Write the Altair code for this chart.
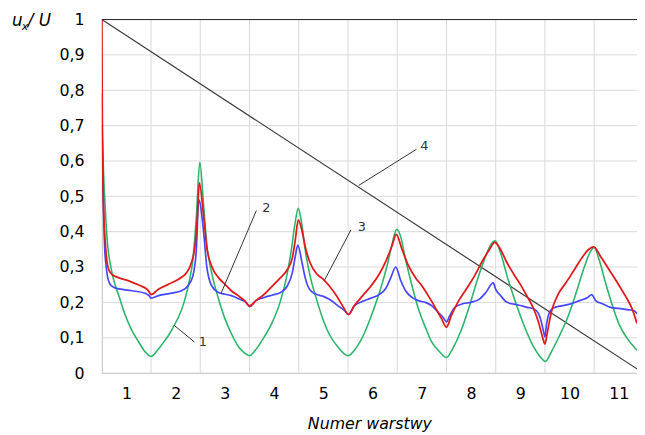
import altair as alt
import pandas as pd

# ---- data ----
x_green = [0.5, 0.52, 0.55, 0.58, 0.62, 0.67, 0.72, 0.85, 0.98, 1.11, 1.25, 1.38, 1.5, 1.65, 1.78, 1.88, 1.97, 2.07, 2.17, 2.27, 2.35, 2.42, 2.49,
           2.57, 2.63, 2.73, 2.87, 3.0, 3.13, 3.28, 3.41, 3.5, 3.62, 3.78, 3.95, 4.12, 4.25, 4.35, 4.42, 4.49,
           4.57, 4.63, 4.73, 4.87, 5.0, 5.13, 5.3, 5.5, 5.67, 5.83, 6.0, 6.17, 6.3, 6.4, 6.49,
           6.57, 6.67, 6.8, 6.93, 7.07, 7.2, 7.37, 7.5, 7.63, 7.8, 7.97, 8.13, 8.27, 8.4, 8.49,
           8.6, 8.73, 8.87, 9.0, 9.13, 9.27, 9.4, 9.51, 9.63, 9.8, 9.97, 10.13, 10.3, 10.43, 10.5,
           10.6, 10.73, 10.87, 11.0, 11.17, 11.37]
y_green = [0.70, 0.62, 0.52, 0.44, 0.36, 0.31, 0.275, 0.217, 0.162, 0.121, 0.088, 0.06, 0.047, 0.068, 0.092, 0.112, 0.135, 0.162, 0.2, 0.255, 0.321, 0.442, 0.596,
           0.47, 0.368, 0.284, 0.21, 0.154, 0.112, 0.074, 0.056, 0.049, 0.065, 0.098, 0.14, 0.2, 0.27, 0.349, 0.419, 0.466,
           0.414, 0.349, 0.275, 0.205, 0.149, 0.107, 0.073, 0.049, 0.072, 0.112, 0.172, 0.242, 0.307, 0.368, 0.407,
           0.386, 0.321, 0.247, 0.182, 0.13, 0.088, 0.059, 0.044, 0.07, 0.121, 0.191, 0.265, 0.321, 0.363, 0.374,
           0.34, 0.275, 0.214, 0.163, 0.116, 0.074, 0.047, 0.033, 0.06, 0.107, 0.16, 0.225, 0.3, 0.345, 0.355,
           0.321, 0.256, 0.191, 0.14, 0.098, 0.065]

x_blue = [0.5, 0.51, 0.525, 0.54, 0.56, 0.59, 0.62, 0.67, 0.75, 0.85, 1.11, 1.38, 1.46, 1.5, 1.65, 1.92, 2.12, 2.25, 2.35, 2.42, 2.47,
          2.57, 2.63, 2.73, 2.87, 3.0, 3.13, 3.3, 3.43, 3.51, 3.63, 3.8, 3.97, 4.13, 4.27, 4.37, 4.43, 4.48,
          4.57, 4.63, 4.73, 4.87, 5.0, 5.13, 5.3, 5.43, 5.51, 5.63, 5.8, 5.97, 6.13, 6.27, 6.37, 6.47,
          6.57, 6.67, 6.8, 6.93, 7.07, 7.2, 7.33, 7.43, 7.5, 7.57, 7.67, 7.83, 8.0, 8.17, 8.3, 8.45,
          8.5, 8.6, 8.73, 8.87, 9.0, 9.13, 9.27, 9.37, 9.43, 9.48, 9.5, 9.53, 9.58, 9.67, 9.83, 10.03, 10.2, 10.37, 10.45,
          10.53, 10.67, 10.83, 11.0, 11.2, 11.3, 11.37]
y_blue = [0.79, 0.66, 0.53, 0.43, 0.35, 0.30, 0.27, 0.251, 0.242, 0.238, 0.233, 0.226, 0.219, 0.212, 0.219, 0.226, 0.233, 0.247, 0.275, 0.349, 0.49,
          0.396, 0.303, 0.247, 0.228, 0.223, 0.219, 0.209, 0.2, 0.188, 0.205, 0.214, 0.221, 0.228, 0.247, 0.284, 0.33, 0.362,
          0.31, 0.27, 0.235, 0.222, 0.217, 0.208, 0.19, 0.177, 0.166, 0.19, 0.203, 0.212, 0.222, 0.24, 0.27, 0.30,
          0.262, 0.233, 0.214, 0.205, 0.2, 0.191, 0.172, 0.158, 0.145, 0.163, 0.186, 0.196, 0.2, 0.209, 0.228, 0.255,
          0.237, 0.219, 0.2, 0.195, 0.191, 0.186, 0.182, 0.168, 0.144, 0.112, 0.102, 0.135, 0.168, 0.184, 0.19, 0.196, 0.205, 0.214, 0.222,
          0.205, 0.196, 0.186, 0.183, 0.179, 0.177, 0.168]

x_red = [0.5, 0.51, 0.525, 0.54, 0.57, 0.6, 0.64, 0.7, 0.8, 1.05, 1.25, 1.42, 1.46, 1.5, 1.65, 1.85, 2.05, 2.22, 2.32, 2.4, 2.44, 2.48,
         2.57, 2.63, 2.73, 2.87, 3.0, 3.13, 3.27, 3.4, 3.5, 3.63, 3.8, 3.97, 4.13, 4.27, 4.37, 4.43, 4.49,
         4.57, 4.63, 4.73, 4.87, 5.0, 5.13, 5.27, 5.4, 5.51, 5.63, 5.8, 5.97, 6.13, 6.27, 6.39, 6.48,
         6.6, 6.73, 6.87, 7.0, 7.13, 7.27, 7.4, 7.5, 7.6, 7.73, 7.9, 8.07, 8.23, 8.37, 8.48,
         8.6, 8.73, 8.87, 9.0, 9.13, 9.27, 9.37, 9.45, 9.5, 9.55, 9.63, 9.77, 9.93, 10.1, 10.27, 10.4, 10.49,
         10.63, 10.8, 10.97, 11.13, 11.27, 11.37]
y_red = [1.0, 0.72, 0.52, 0.45, 0.37, 0.32, 0.293, 0.28, 0.272, 0.261, 0.249, 0.237, 0.23, 0.222, 0.237, 0.251, 0.265, 0.284, 0.312, 0.368, 0.442, 0.538,
         0.442, 0.358, 0.303, 0.27, 0.251, 0.233, 0.219, 0.205, 0.19, 0.205, 0.223, 0.247, 0.27, 0.293, 0.326, 0.377, 0.433,
         0.4, 0.358, 0.312, 0.28, 0.265, 0.245, 0.218, 0.188, 0.166, 0.191, 0.219, 0.247, 0.279, 0.317, 0.358, 0.392,
         0.349, 0.303, 0.27, 0.247, 0.219, 0.186, 0.154, 0.13, 0.163, 0.2, 0.237, 0.275, 0.317, 0.349, 0.37,
         0.349, 0.312, 0.279, 0.251, 0.219, 0.182, 0.144, 0.102, 0.082, 0.116, 0.172, 0.223, 0.256, 0.293, 0.33, 0.351, 0.357,
         0.33, 0.293, 0.256, 0.219, 0.182, 0.14]

x_line4 = [0.5, 11.5]
y_line4 = [1.0, 0.0]

layer_numbers = [1, 2, 3, 4, 5, 6, 7, 8, 9, 10, 11]
layer_bounds = [1.5, 2.5, 3.5, 4.5, 5.5, 6.5, 7.5, 8.5, 9.5, 10.5]
y_ticks = [0, 0.1, 0.2, 0.3, 0.4, 0.5, 0.6, 0.7, 0.8, 0.9, 1.0]

label_text = ["1", "2", "3", "4"]
label_x = [2.55, 3.84, 5.78, 7.05]
label_y = [0.089, 0.466, 0.413, 0.642]
ptr_x1 = [2.38, 3.64, 5.56, 6.89]
ptr_y1 = [0.088, 0.46, 0.405, 0.633]
ptr_x2 = [1.97, 2.92, 5.02, 5.72]
ptr_y2 = [0.135, 0.225, 0.262, 0.531]

# ---- build tables ----
rows = []
for s, xs_, ys_ in [("1", x_green, y_green), ("2", x_blue, y_blue), ("3", x_red, y_red)]:
    for i, (a, b) in enumerate(zip(xs_, ys_)):
        rows.append({"series": s, "x": a, "y": b, "order": i})
curves = pd.DataFrame(rows)
line4_df = pd.DataFrame({"x": x_line4, "y": y_line4})
bounds_df = pd.DataFrame({"x": layer_bounds})
ticks_df = pd.DataFrame({"y": y_ticks})
labels_df = pd.DataFrame({"t": label_text, "x": label_x, "y": label_y})
ptr_df = pd.DataFrame({"x": ptr_x1, "y": ptr_y1, "x2": ptr_x2, "y2": ptr_y2})
one = pd.DataFrame({"a": [0]})

XMAX = 11.37
xs = alt.Scale(domain=[0.5, XMAX], nice=False, zero=False)
ys = alt.Scale(domain=[0, 1], nice=False)

FONT = "DejaVu Sans"

ax_x = alt.Axis(values=layer_numbers, grid=False, ticks=False, labelFontSize=16,
                labelFont=FONT, labelColor="#000000", labelPadding=13, labelOverlap=False,
                domainColor="#bfbfbf", title="Numer warstwy",
                titleFont=FONT, titleFontSize=16, titleFontStyle="italic",
                titleFontWeight="normal", titleColor="#000000", titlePadding=14)
ax_y = alt.Axis(values=y_ticks, grid=False, ticks=False, labelOverlap=False,
                labelFontSize=16, labelFont=FONT, labelColor="#000000", labelPadding=18,
                labelExpr="replace(format(datum.value, '.1~f'), '.', ',')",
                domainColor="#bfbfbf", title=None)

X = lambda f="x:Q": alt.X(f, scale=xs, axis=ax_x)
Y = lambda f="y:Q": alt.Y(f, scale=ys, axis=ax_y)

grid_v = alt.Chart(bounds_df).mark_rule(color="#d9d9d9", strokeWidth=1).encode(x=X())
grid_h = alt.Chart(ticks_df).mark_rule(color="#d9d9d9", strokeWidth=1).encode(y=Y())

top_rule = alt.Chart(one).mark_rule(color="#222222", strokeWidth=1).encode(
    y=alt.datum(1.0, scale=ys, axis=ax_y)
)

color_scale = alt.Scale(domain=["1", "2", "3"], range=["#2eb36a", "#4646ff", "#e01b1b"])
width_scale = alt.Scale(domain=["1", "2", "3"], range=[1.6, 1.8, 1.6])

lines = alt.Chart(curves).mark_line(clip=True, interpolate="monotone").encode(
    x=X(), y=Y(),
    color=alt.Color("series:N", scale=color_scale, legend=None),
    strokeWidth=alt.StrokeWidth("series:N", scale=width_scale, legend=None),
    order="order:Q",
    detail="series:N",
)

line4 = alt.Chart(line4_df).mark_line(clip=True, color="#3a3a3a", strokeWidth=1.2).encode(
    x=X(), y=Y(),
)

pointers = alt.Chart(ptr_df).mark_rule(color="#333333", strokeWidth=1).encode(
    x=X(), y=Y(), x2="x2:Q", y2="y2:Q",
)

labels = alt.Chart(labels_df).mark_text(font=FONT, fontSize=13, color="#333333",
                                        align="center", baseline="middle").encode(
    x=X(), y=Y(), text="t:N"
)

t_u = alt.Chart(one).mark_text(font=FONT, fontSize=17, fontStyle="italic", align="left",
                               baseline="alphabetic", color="#000000").encode(
    x=alt.value(-91), y=alt.value(7), text=alt.value("u"))
t_x = alt.Chart(one).mark_text(font=FONT, fontSize=11, fontStyle="italic", align="left",
                               baseline="alphabetic", color="#000000").encode(
    x=alt.value(-81), y=alt.value(11), text=alt.value("x"))
t_U = alt.Chart(one).mark_text(font=FONT, fontSize=17, fontStyle="italic", align="left",
                               baseline="alphabetic", color="#000000").encode(
    x=alt.value(-75), y=alt.value(7), text=alt.value("/ U"))

chart = alt.layer(
    grid_v, grid_h, top_rule, line4, lines, pointers, labels, t_u, t_x, t_U
).properties(
    width=542, height=358,
    autosize=alt.AutoSizeParams(type="none"),
    padding={"left": 95, "top": 9, "right": 0, "bottom": 60},
).configure_view(stroke=None)

chart.save("out.html", embed_options={"renderer": "svg", "actions": False})
